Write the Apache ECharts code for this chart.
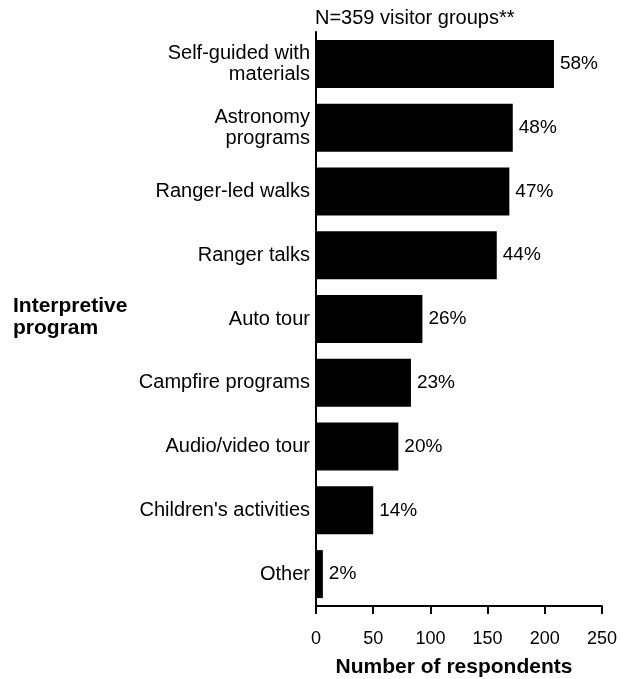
<!DOCTYPE html>
<html><head><meta charset="utf-8">
<script src="https://cdn.jsdelivr.net/npm/echarts@6/dist/echarts.min.js"></script>
<style>html,body{margin:0;padding:0;background:#fff}#c{width:623px;height:679px}</style>
</head><body><div id="c"></div>
<script>
const categories = ["Self-guided with\nmaterials","Astronomy\nprograms","Ranger-led walks","Ranger talks","Auto tour","Campfire programs","Audio/video tour","Children's activities","Other"];
const counts = [208, 172, 169, 158, 93, 83, 72, 50, 6];
const percents = ["58%","48%","47%","44%","26%","23%","20%","14%","2%"];
const xTicks = [0, 50, 100, 150, 200, 250];

const F = "'Liberation Sans', Arial, sans-serif";
const chart = echarts.init(document.getElementById('c'));
chart.setOption({
  animation: false,
  grid: {left: 316, right: 21, top: 32, bottom: 73, containLabel: false, outerBoundsMode: 'none'},
  title: {text: "N=359 visitor groups**", left: 315, top: 8, padding: 0,
    textStyle: {fontFamily: F, fontSize: 20, fontWeight: 'normal', color: '#000'}},
  graphic: [{type: 'text', left: 13, top: 295,
    style: {text: "Interpretive\nprogram", font: "bold 21px 'Liberation Sans', Arial, sans-serif", fill: '#000', lineHeight: 22}}],
  xAxis: {type: 'value', min: 0, max: 250, interval: 50,
    name: "Number of respondents", nameLocation: 'middle', nameGap: 51,
    nameTextStyle: {fontFamily: F, fontSize: 21, fontWeight: 'bold', color: '#000', padding: [0, 10, 0, 0]},
    axisLine: {show: true, lineStyle: {color: '#000', width: 2}},
    axisTick: {show: true, length: 8, lineStyle: {color: '#000', width: 2}},
    axisLabel: {fontFamily: F, fontSize: 18, color: '#000', margin: 24,
      formatter: v => xTicks.includes(v) ? String(v) : ''},
    splitLine: {show: false}},
  yAxis: {type: 'category', data: categories, inverse: true,
    axisLine: {show: true, lineStyle: {color: '#000', width: 2}},
    axisTick: {show: false},
    axisLabel: {fontFamily: F, fontSize: 20, color: '#000', margin: 6, lineHeight: 21, align: 'right'}},
  series: [{type: 'bar', data: counts, barWidth: 48,
    itemStyle: {color: '#000'},
    label: {show: true, position: 'right', distance: 6, fontFamily: F, fontSize: 19, color: '#000',
      formatter: p => percents[p.dataIndex]}}]
});
</script></body></html>
